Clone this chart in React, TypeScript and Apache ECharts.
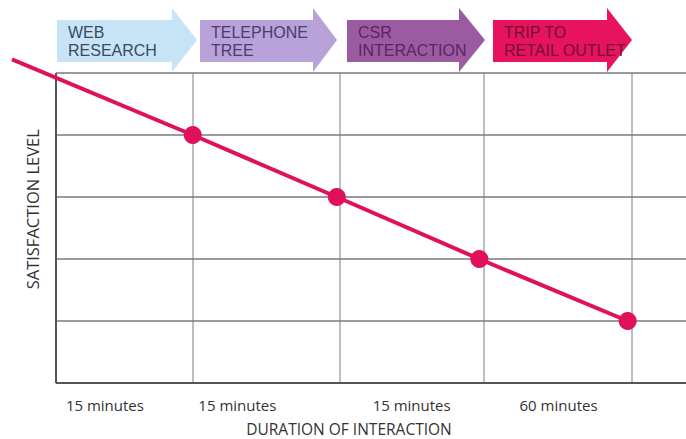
import React, { useEffect, useRef } from "react";
import * as echarts from "echarts";

// Stages shown as arrows across the top
const stages = ["WEB\nRESEARCH", "TELEPHONE\nTREE", "CSR\nINTERACTION", "TRIP TO\nRETAIL OUTLET"];
const stageColors = ["#c6e4f6", "#b9a1d9", "#9b5ba1", "#e8135f"];
const stageTextColors = ["#3b4a5e", "#4b3d6b", "#5b2461", "#70102f"];

// X axis (stage units): duration labels and stage boundary lines
const durationLabels = ["15 minutes", "15 minutes", "15 minutes", "60 minutes"];
const durationLabelPos = [0.34, 1.26, 2.47, 3.49];
const stageBoundaries = [0.95, 1.97, 2.97, 4.0];
const xMin = -0.305;
const xMax = 4.375;

// Y axis levels (grid lines)
const levels = [1, 2, 3, 4, 5];
const yMax = 5.25;

// Satisfaction line
const pointX = [-0.305, 0.95, 1.95, 2.94, 3.97];
const satisfaction = [5.22, 4, 3, 2, 1];

export default function App() {
  const ref = useRef<HTMLDivElement>(null);

  useEffect(() => {
    if (!ref.current) return;
    const chart = echarts.init(ref.current, undefined, { renderer: "svg" });

    const arrowBodies = [
      [57, 172, 197],
      [200, 313, 337],
      [347, 459, 485],
      [493, 607, 632],
    ];
    const graphics: any[] = [];
    arrowBodies.forEach(([x0, xb, tip], i) => {
      graphics.push({
        type: "polygon",
        shape: {
          points: [
            [x0, 20],
            [xb, 20],
            [xb, 8],
            [tip, 40],
            [xb, 72],
            [xb, 62],
            [x0, 62],
          ],
        },
        style: { fill: stageColors[i] },
        z: 10,
      });
      graphics.push({
        type: "text",
        x: x0 + 11,
        y: 41,
        style: {
          text: stages[i],
          fill: stageTextColors[i],
          font: "16px 'Liberation Sans', Arial, sans-serif",
          lineHeight: 18,
          verticalAlign: "middle",
          align: "left",
        },
        z: 11,
      });
    });

    const lineData = pointX.map((x, i) =>
      i === 0
        ? { value: [x, satisfaction[i]], symbol: "none" }
        : { value: [x, satisfaction[i]] }
    );

    const gridLines: any[] = [];
    // vertical stage boundaries
    stageBoundaries.forEach((v) =>
      gridLines.push([
        { coord: [v, 0], lineStyle: { color: "#a8a8a8", width: 1.5 } },
        { coord: [v, 5] },
      ])
    );
    // horizontal levels
    levels.forEach((v) =>
      gridLines.push([
        { coord: [0, v], lineStyle: { color: "#7a7a7a", width: 1.5 } },
        { coord: [xMax, v] },
      ])
    );
    // axes
    gridLines.push([
      { coord: [0, 0], lineStyle: { color: "#555", width: 2 } },
      { coord: [xMax, 0] },
    ]);
    gridLines.push([
      { coord: [0, 0], lineStyle: { color: "#555", width: 2 } },
      { coord: [0, 5] },
    ]);

    chart.setOption({
      animation: false,
      backgroundColor: "#ffffff",
      grid: {
        left: 12,
        right: 0,
        top: 57.5,
        bottom: 56,
        containLabel: false,
        outerBoundsMode: "none",
      },
      xAxis: {
        type: "value",
        min: xMin,
        max: xMax,
        axisLine: { show: false },
        axisTick: { show: false },
        splitLine: { show: false },
        axisLabel: {
          customValues: durationLabelPos,
          margin: 14,
          color: "#333",
          fontSize: 15,
          fontFamily: "'Open Sans', sans-serif",
          formatter: (v: number) => {
            let best = 0;
            durationLabelPos.forEach((p, i) => {
              if (Math.abs(p - v) < Math.abs(durationLabelPos[best] - v)) best = i;
            });
            return durationLabels[best];
          },
        },
        name: "DURATION OF INTERACTION",
        nameLocation: "middle",
        nameGap: 38,
        nameTextStyle: { color: "#333", fontSize: 15.5, fontFamily: "'Open Sans', sans-serif" },
      },
      yAxis: {
        type: "value",
        min: 0,
        max: yMax,
        axisLine: { show: false },
        axisTick: { show: false },
        axisLabel: { show: false },
        splitLine: { show: false },
        name: "SATISFACTION LEVEL",
        nameLocation: "middle",
        nameRotate: 90,
        nameGap: -29,
        nameTextStyle: {
          color: "#333",
          fontSize: 16.5,
          fontFamily: "'Open Sans', sans-serif",
          padding: [0, 0, 0, 22],
        },
      },
      series: [
        {
          type: "line",
          data: lineData,
          clip: false,
          symbol: "circle",
          symbolSize: 18,
          lineStyle: { color: "#e0115c", width: 4 },
          itemStyle: { color: "#e0115c" },
          z: 5,
          markLine: {
            silent: true,
            symbol: ["none", "none"],
            label: { show: false },
            lineStyle: { type: "solid" },
            data: gridLines,
            z: 1,
          },
        },
      ],
      graphic: graphics,
    });

    return () => chart.dispose();
  }, []);

  return (
    <div
      ref={ref}
      style={{ position: "fixed", left: 0, top: 0, width: 686, height: 439 }}
    />
  );
}
